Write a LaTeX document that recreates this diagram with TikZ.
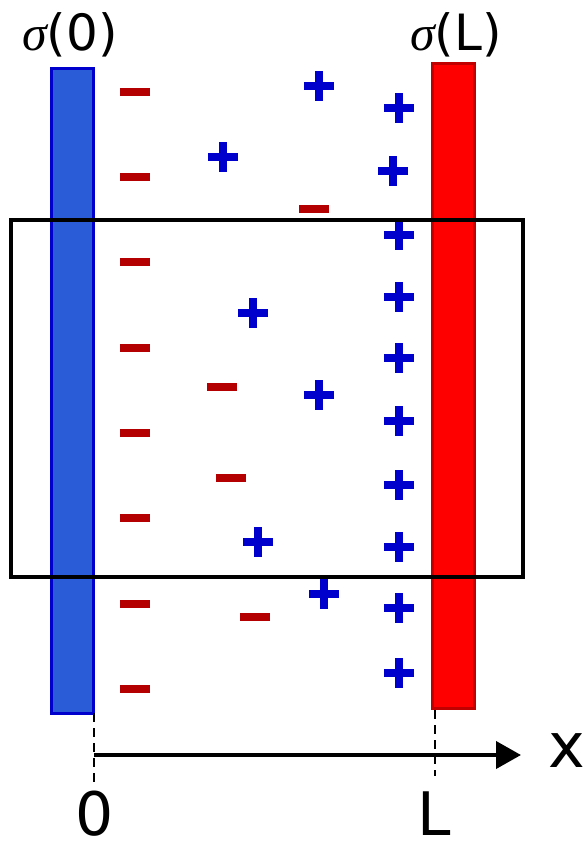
\documentclass[tikz,border=0pt]{standalone}
\usepackage{fontspec}
\setmainfont{DejaVu Sans}
\newfontfamily\sigmafont{Liberation Serif}
\usetikzlibrary{arrows.meta,positioning}
\definecolor{platenegfill}{HTML}{2B5CD8}
\definecolor{platenegline}{HTML}{0000CC}
\definecolor{plateposfill}{HTML}{FF0000}
\definecolor{plateposline}{HTML}{C00000}
\definecolor{poscharge}{HTML}{0000CC}
\definecolor{negcharge}{HTML}{B40000}
\newcommand{\sig}{{\sigmafont\itshape σ}}

\begin{document}
\begin{tikzpicture}[
  x=1pt, y=-1pt,
  plate/.style={line width=3pt, minimum width=42pt, minimum height=645pt, inner sep=0pt},
  window/.style={draw=black, line width=3.8pt, minimum width=512pt, minimum height=357pt, inner sep=0pt},
  minus/.style={fill=negcharge, minimum width=30pt, minimum height=8pt, inner sep=0pt},
  plus/.style={minimum size=30pt, inner sep=0pt,
    path picture={
      \fill[poscharge] (path picture bounding box.west) ++(0pt,-4pt) rectangle ++(30pt,8pt);
      \fill[poscharge] (path picture bounding box.south) ++(-4pt,0pt) rectangle ++(8pt,30pt);}},
  lbl/.style={inner sep=0pt, anchor=base},
  arr/.style={-{Triangle[length=25pt,width=27pt]}, line width=4pt},
  guide/.style={line width=1.5pt, dash pattern=on 9pt off 6pt}
]
\useasboundingbox (0,0) rectangle (584,844);

% plates
\node[plate, fill=platenegfill, draw=platenegline] (plate0) at (72,390.5) {};
\node[plate, fill=plateposfill, draw=plateposline] (plateL) at (453.5,385.5) {};

% counter-ions near the left plate
\foreach \y [count=\i] in {92,177,262,348,433,518,604,689}
  \node[minus] (m\i) at (135,\y) {};
% co-ions near the right plate
\foreach \y [count=\i] in {108,235,297,358,421,485,547,608,673}
  \node[plus] (p\i) at (399,\y) {};
\node[plus] (pa) at (393,171) {};

% loose charges in the gap
\node[minus] (ma) at (314,209) {};
\node[minus] (mb) at (222,387) {};
\node[minus] (mc) at (231,478) {};
\node[minus] (md) at (255,617) {};
\node[plus] (pb) at (319,86) {};
\node[plus] (pc) at (223,157) {};
\node[plus] (pd) at (253,313) {};
\node[plus] (pe) at (319,395) {};
\node[plus] (pf) at (258,542) {};
\node[plus] (pg) at (324,594) {};

% control volume
\node[window] (box) at (267,398.5) {};

% labels
\node[lbl, font=\fontsize{50}{54}\selectfont] (sig0) at (70,50) {\sig(0)};
\node[lbl, font=\fontsize{50}{54}\selectfont] (sigL) at (456,50) {\sig(L)};

% axis
\coordinate (origin) at (94,755);
\coordinate (xend) at (521,755);
\coordinate (t0) at (94,713);
\coordinate (b0) at (94,783);
\coordinate (tL) at (435,710);
\coordinate (bL) at (435,776);
\draw[guide] (t0) -- (b0);
\draw[guide] (tL) -- (bL);
\draw[arr] (origin) -- (xend);
\node[lbl, font=\fontsize{62}{66}\selectfont] (xlbl) at (567,767) {x};
\node[lbl, font=\fontsize{60}{64}\selectfont] (zero) at (95,835) {0};
\node[lbl, font=\fontsize{60}{64}\selectfont] (ell) at (434,835) {L};
\end{tikzpicture}
\end{document}
